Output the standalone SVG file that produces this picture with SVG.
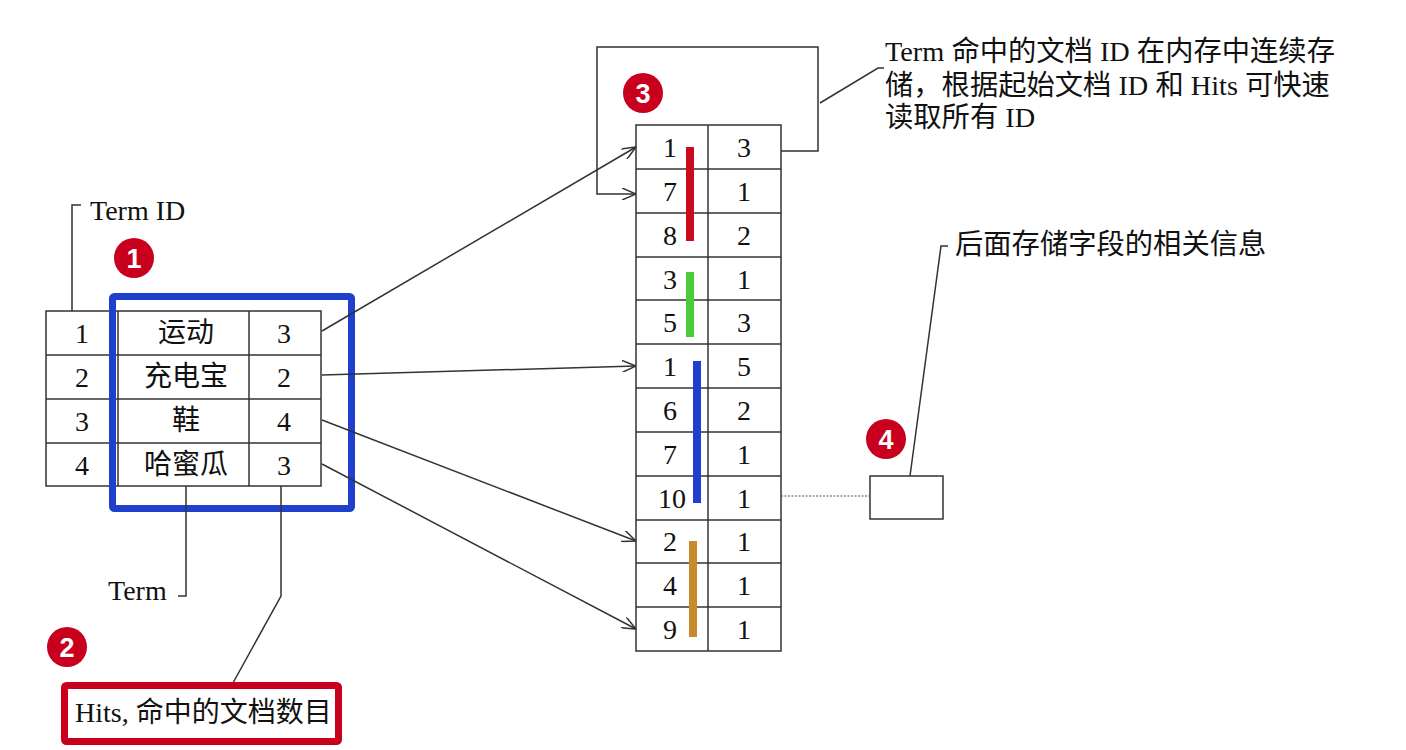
<svg xmlns="http://www.w3.org/2000/svg" width="1406" height="750" viewBox="0 0 1406 750">
<style>
.cell{fill:#fff;stroke:#333;stroke-width:1.5}
.ln{fill:none;stroke:#333;stroke-width:1.5}
.t{font-family:"Liberation Serif","Noto Sans CJK SC",serif;font-size:28px;fill:#111}
.n{font-size:28.3px}
.c{text-anchor:middle}
.badge{fill:#C8001E}
.bt{font-family:"Liberation Sans",Arial,sans-serif;font-size:27px;font-weight:bold;fill:#fff;text-anchor:middle}
</style>
<defs>
<marker id="arr" viewBox="0 0 14 12" refX="14" refY="6" markerWidth="14" markerHeight="12" markerUnits="userSpaceOnUse" orient="auto">
<path d="M0,0 L14,6 L0,12" fill="none" stroke="#333" stroke-width="1.5"/>
</marker>
</defs>
<rect width="1406" height="750" fill="#fff"/>

<g id="term-table">
<rect class="cell" x="46" y="311" width="275" height="175"/>
<line class="ln" x1="46" y1="355" x2="321" y2="355"/>
<line class="ln" x1="46" y1="399" x2="321" y2="399"/>
<line class="ln" x1="46" y1="443" x2="321" y2="443"/>
<line class="ln" x1="118" y1="311" x2="118" y2="486"/>
<line class="ln" x1="249" y1="311" x2="249" y2="486"/>
<text class="t c" x="82" y="343">1</text>
<text class="t c" x="82" y="387">2</text>
<text class="t c" x="82" y="431">3</text>
<text class="t c" x="82" y="475">4</text>
<text class="t c" x="186" y="342">运动</text>
<text class="t c" x="186" y="386">充电宝</text>
<text class="t c" x="186" y="430">鞋</text>
<text class="t c" x="186" y="474">哈蜜瓜</text>
<text class="t c" x="284" y="343">3</text>
<text class="t c" x="284" y="387">2</text>
<text class="t c" x="284" y="431">4</text>
<text class="t c" x="284" y="475">3</text>
</g>

<g id="blue-highlight">
<rect x="112.5" y="296.5" width="239" height="212" rx="2" fill="none" stroke="#1F3FCC" stroke-width="7"/>
</g>

<g id="label-termid">
<path class="ln" d="M72,311 V205 H81"/>
<text class="t" x="90" y="220">Term ID</text>
</g>

<g id="label-term">
<path class="ln" d="M186,486 V596 H178"/>
<text class="t" x="108" y="600">Term</text>
</g>

<g id="label-hits">
<path class="ln" d="M281,486 V596 L228,692"/>
<rect x="64.5" y="685.5" width="274" height="56" rx="2" fill="#fff" stroke="#C8001E" stroke-width="7"/>
<text class="t" x="75" y="722">Hits, 命中的文档数目</text>
</g>

<g id="doc-table">
<rect class="cell" x="636" y="125" width="145" height="526"/>
<line class="ln" x1="708" y1="125" x2="708" y2="651"/>
<line class="ln" x1="636" y1="169" x2="781" y2="169"/>
<line class="ln" x1="636" y1="213" x2="781" y2="213"/>
<line class="ln" x1="636" y1="257" x2="781" y2="257"/>
<line class="ln" x1="636" y1="300" x2="781" y2="300"/>
<line class="ln" x1="636" y1="344" x2="781" y2="344"/>
<line class="ln" x1="636" y1="388" x2="781" y2="388"/>
<line class="ln" x1="636" y1="432" x2="781" y2="432"/>
<line class="ln" x1="636" y1="476" x2="781" y2="476"/>
<line class="ln" x1="636" y1="520" x2="781" y2="520"/>
<line class="ln" x1="636" y1="563" x2="781" y2="563"/>
<line class="ln" x1="636" y1="607" x2="781" y2="607"/>
<text class="t c" x="670" y="157">1</text><text class="t c" x="744" y="157">3</text>
<text class="t c" x="670" y="201">7</text><text class="t c" x="744" y="201">1</text>
<text class="t c" x="670" y="245">8</text><text class="t c" x="744" y="245">2</text>
<text class="t c" x="670" y="289">3</text><text class="t c" x="744" y="289">1</text>
<text class="t c" x="670" y="332">5</text><text class="t c" x="744" y="332">3</text>
<text class="t c" x="670" y="376">1</text><text class="t c" x="744" y="376">5</text>
<text class="t c" x="670" y="420">6</text><text class="t c" x="744" y="420">2</text>
<text class="t c" x="670" y="464">7</text><text class="t c" x="744" y="464">1</text>
<text class="t c" x="672" y="508">10</text><text class="t c" x="744" y="508">1</text>
<text class="t c" x="670" y="551">2</text><text class="t c" x="744" y="551">1</text>
<text class="t c" x="670" y="595">4</text><text class="t c" x="744" y="595">1</text>
<text class="t c" x="670" y="639">9</text><text class="t c" x="744" y="639">1</text>
<rect x="686" y="147" width="8" height="94" fill="#CC0A1E"/>
<rect x="686" y="272" width="8" height="65" fill="#4CCB3A"/>
<rect x="693" y="361" width="8" height="142" fill="#1F3FCC"/>
<rect x="689" y="541" width="8" height="96" fill="#C98A2C"/>
</g>

<g id="field-box">
<rect class="cell" x="870" y="476" width="73" height="43"/>
</g>

<g id="note-top">
<path class="ln" d="M820,103 L878,68 H884"/>
<text class="t n" x="885" y="61">Term 命中的文档 ID 在内存中连续存</text>
<text class="t n" x="885" y="95">储，根据起始文档 ID 和 Hits 可快速</text>
<text class="t n" x="885" y="127">读取所有 ID</text>
</g>

<g id="note-field">
<path class="ln" d="M910,476 L941,246 H948"/>
<text class="t n" x="955" y="254">后面存储字段的相关信息</text>
</g>

<g id="connectors">
<line class="ln" x1="322" y1="331" x2="636" y2="147" marker-end="url(#arr)"/>
<line class="ln" x1="322" y1="375" x2="636" y2="366" marker-end="url(#arr)"/>
<line class="ln" x1="322" y1="420" x2="636" y2="541" marker-end="url(#arr)"/>
<line class="ln" x1="322" y1="464" x2="636" y2="629" marker-end="url(#arr)"/>
<path class="ln" d="M781,151 H818 V47 H597 V194 H636" marker-end="url(#arr)"/>
<line x1="781" y1="496" x2="870" y2="496" stroke="#555" stroke-width="1.2" stroke-dasharray="2,1.5"/>
</g>

<g id="badge-1"><circle class="badge" cx="134" cy="258" r="20"/><text class="bt" x="134" y="268">1</text></g>
<g id="badge-2"><circle class="badge" cx="67" cy="647" r="20"/><text class="bt" x="67" y="657">2</text></g>
<g id="badge-3"><circle class="badge" cx="643" cy="93" r="20"/><text class="bt" x="643" y="103">3</text></g>
<g id="badge-4"><circle class="badge" cx="886" cy="439" r="20"/><text class="bt" x="886" y="449">4</text></g>
</svg>
